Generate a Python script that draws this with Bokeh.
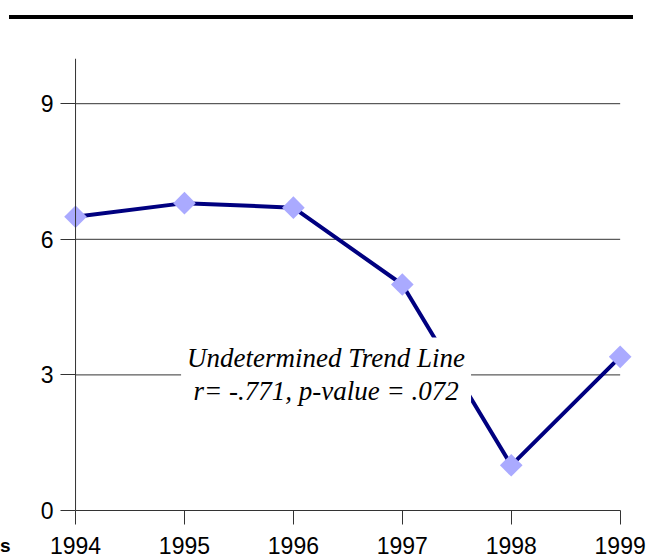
import math
from bokeh.plotting import figure
from bokeh.models import Label, Div, Range1d, FixedTicker, ColumnDataSource, Span
from bokeh.layouts import column, row
from bokeh.embed import file_html
from bokeh.resources import INLINE

years = [1994, 1995, 1996, 1997, 1998, 1999]
values = [6.5, 6.8, 6.7, 5.0, 1.0, 3.4]
y_ticks = [0, 3, 6, 9]
note_lines = ["Undetermined Trend Line", "r= -.771, p-value = .072"]

pad_left = 0.138
pad_right = 0.15
p = figure(
    output_backend="svg", toolbar_location=None,
    width=638, height=541,
    frame_width=576, frame_height=452,
    min_border_left=49, min_border_right=13, min_border_top=39, min_border_bottom=50,
    x_range=Range1d(years[0] - pad_left, years[-1] + pad_right),
    y_range=Range1d(0, 10),
)
p.outline_line_color = None
p.background_fill_color = "white"
p.border_fill_color = "white"
p.xgrid.visible = False
p.ygrid.visible = False

# horizontal grid lines spanning the category extent
grid_src = ColumnDataSource(dict(
    x0=[years[0]] * (len(y_ticks) - 1), x1=[years[-1]] * (len(y_ticks) - 1),
    y=y_ticks[1:]))
p.segment(x0="x0", y0="y", x1="x1", y1="y", source=grid_src,
          line_color="#333333", line_width=1)

# vertical axis line at the first category
p.add_layout(Span(location=years[0], dimension="height",
                  line_color="#333333", line_width=1))

# axes
for ax in (p.xaxis[0], p.yaxis[0]):
    ax.axis_line_color = "#333333"
    ax.major_tick_line_color = "#333333"
    ax.minor_tick_line_color = None
    ax.major_label_text_font = "Liberation Sans"
    ax.major_label_text_font_size = "23px"
    ax.major_label_text_color = "black"

p.xaxis.ticker = FixedTicker(ticks=years)
p.xaxis.bounds = (years[0], years[-1])
p.xaxis.major_tick_in = 0
p.xaxis.major_tick_out = 14
p.xaxis.major_label_standoff = 12

p.yaxis.ticker = FixedTicker(ticks=y_ticks)
p.yaxis.axis_line_color = None
p.yaxis.major_tick_in = 15
p.yaxis.major_tick_out = 0
p.yaxis.major_label_standoff = 7

# data line and markers
p.line(years, values, line_color="#000080", line_width=4)
p.scatter(years, values, marker="square", size=16, angle=math.pi / 4,
          fill_color="#AAAAFF", line_color=None)

note = Label(x=1996.3, y=3.0, text="\n".join(note_lines),
             text_font="Liberation Serif", text_font_style="italic",
             text_font_size="27px", text_align="center", text_baseline="middle",
             text_line_height=1.1, text_color="black",
             background_fill_color="white", padding=6)
p.add_layout(note)

s_div = Div(text="s", width=11, height=541,
            styles={"font-weight": "bold", "font-size": "19px",
                    "font-family": "Liberation Sans", "padding-top": "516px",
                    "overflow": "hidden", "box-sizing": "border-box",
                    "line-height": "normal"},
            margin=(0, 0, 0, 0))

top_rule = Div(width=624, height=4, styles={"background-color": "black"},
               margin=(15, 0, 0, 9))

layout = column(top_rule, row(s_div, p, spacing=0), spacing=0)

open("out.html", "w").write(file_html(layout, INLINE))
